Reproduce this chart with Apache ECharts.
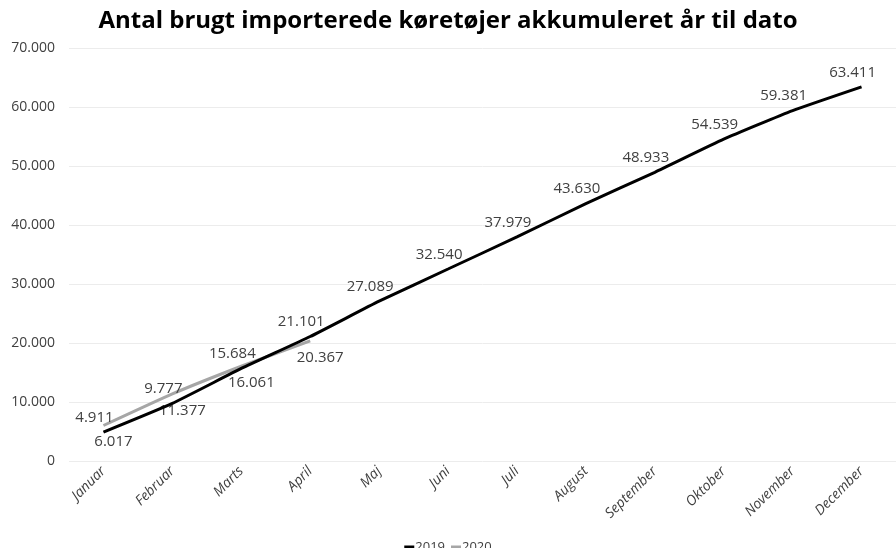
<!DOCTYPE html>
<html lang="da">
<head>
    <meta charset="UTF-8">
    <title>Antal brugt importerede køretøjer</title>
    <script src="https://cdn.jsdelivr.net/npm/echarts@6/dist/echarts.min.js"></script>
    <style>
        html, body { margin: 0; padding: 0; background: #fff; }
        #chart1 { width: 896px; height: 548px; }
    </style>
</head>
<body>
<div id="chart1"></div>
<script>
    var months = ['Januar','Februar','Marts','April','Maj','Juni','Juli','August','September','Oktober','November','December'];
    var data2019 = [4911, 9777, 15684, 21101, 27089, 32540, 37979, 43630, 48933, 54539, 59381, 63411];
    var data2020 = [6017, 11377, 16061, 20367];

    // tal med punktum som tusindtalsseparator
    function fmt(v) {
        return String(v).replace(/\B(?=(\d{3})+(?!\d))/g, '.');
    }

    var myChart = echarts.init(document.getElementById('chart1'));
    var option1 = {
        animation: false,
        textStyle: { fontFamily: 'Open Sans' },
        title: {
            text: 'Antal brugt importerede køretøjer akkumuleret år til dato',
            left: 'center',
            top: 4,
            textStyle: { fontFamily: 'Open Sans', fontSize: 24, fontWeight: 'bold', color: '#000' }
        },
        legend: {
            data: ['2019', '2020'],
            bottom: -11,
            left: 'center',
            itemWidth: 10,
            itemHeight: 4,
            itemGap: 6,
            icon: 'rect',
            textStyle: { fontSize: 13, color: '#404040', padding: [0, 0, 0, -4] }
        },
        grid: {
            left: 69,
            right: -10,
            top: 48,
            bottom: 87
        },
        xAxis: {
            type: 'category',
            data: months,
            boundaryGap: true,
            axisLine: { show: false },
            axisTick: { show: false },
            axisLabel: {
                rotate: 45,
                fontStyle: 'italic',
                fontSize: 14,
                color: '#404040',
                margin: 8
            }
        },
        yAxis: {
            type: 'value',
            min: 0,
            max: 70000,
            interval: 10000,
            axisLabel: {
                fontSize: 14,
                color: '#404040',
                margin: 14,
                formatter: fmt
            },
            splitLine: { lineStyle: { color: '#ececec', width: 1 } }
        },
        series: [
            {
                name: '2019',
                type: 'line',
                data: data2019,
                symbol: 'circle',
                symbolSize: 0.1,
                smooth: 0.15,
                lineStyle: { color: '#000', width: 3 },
                itemStyle: { color: '#000' },
                label: {
                    show: true,
                    position: 'top',
                    distance: 7,
                    offset: [-9, 0],
                    fontSize: 15,
                    color: '#404040',
                    formatter: function (p) { return fmt(p.value); }
                },
                z: 3
            },
            {
                name: '2020',
                type: 'line',
                data: data2020,
                symbol: 'circle',
                symbolSize: 0.1,
                smooth: 0.15,
                lineStyle: { color: '#a6a6a6', width: 3 },
                itemStyle: { color: '#a6a6a6' },
                label: {
                    show: true,
                    position: 'bottom',
                    distance: 9,
                    offset: [10, 0],
                    fontSize: 15,
                    color: '#404040',
                    formatter: function (p) { return fmt(p.value); }
                },
                z: 2
            }
        ]
    };
    myChart.setOption(option1);
</script>
</body>
</html>
